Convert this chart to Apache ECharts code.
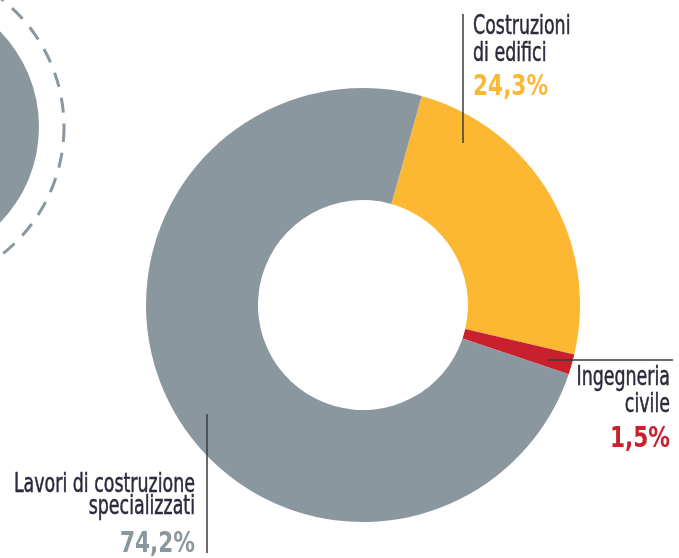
<!DOCTYPE html>
<html>
<head>
<meta charset="utf-8">
<script src="https://cdn.jsdelivr.net/npm/echarts@6/dist/echarts.min.js"></script>
<style>
  html, body { margin: 0; padding: 0; background: #fff; }
  #main { width: 679px; height: 558px; }
</style>
</head>
<body>
<div id="main"></div>
<script>
  // dati
  const categories = ['Costruzioni\ndi edifici', 'Ingegneria\ncivile', 'Lavori di costruzione\nspecializzati'];
  const values = [24.3, 1.5, 74.2];
  const colors = ['#fdb833', '#c8212d', '#8b979e'];

  const font = '"DejaVu Sans Condensed", "Liberation Sans Narrow", sans-serif';
  const textColor = '#2b2a3c';

  // etichette: ancora x, allineamento, linee di base dei nomi e della percentuale
  const labelPos = [
    { x: 473, align: 'left', base: [35, 62], pbase: 96 },
    { x: 670, align: 'right', base: [386, 413], pbase: 448 },
    { x: 195, align: 'right', base: [493, 515], pbase: 553 }
  ];
  const nameSize = 26, nameScale = 0.745;
  const pctSize = 29, pctScale = 0.83;

  function fmt(v) { return v.toFixed(1).replace('.', ',') + '%'; }

  const labelEls = [];
  categories.forEach((c, i) => {
    const p = labelPos[i];
    c.split('\n').forEach((line, k) => {
      labelEls.push({
        type: 'text', x: p.x, y: p.base[k] - nameSize * 0.3, scaleX: nameScale, z: 20, silent: true,
        style: {
          text: line, font: nameSize + 'px ' + font, fill: textColor,
          stroke: textColor, lineWidth: 0.5, align: p.align, verticalAlign: 'middle'
        }
      });
    });
    labelEls.push({
      type: 'text', x: p.x, y: p.pbase - pctSize * 0.3, scaleX: pctScale, z: 20, silent: true,
      style: { text: fmt(values[i]), font: 'bold ' + pctSize + 'px ' + font, fill: colors[i], align: p.align, verticalAlign: 'middle' }
    });
  });

  const pieData = categories.map((c, i) => ({
    name: c,
    value: values[i],
    itemStyle: { color: colors[i] }
  }));

  const myChart = echarts.init(document.getElementById('main'));
  const lineStyle = { stroke: '#3a3a3a', lineWidth: 1.5 };

  const option = {
    animation: false,
    backgroundColor: '#fff',
    graphic: [
      // cerchio decorativo a sinistra
      { type: 'circle', shape: { cx: -98, cy: 127, r: 137 }, style: { fill: '#8b979e' }, silent: true },
      { type: 'circle', shape: { cx: -98, cy: 127, r: 162 }, style: { fill: 'none', stroke: '#8b979e', lineWidth: 3, lineDash: [15, 11] }, silent: true },
      // linee di richiamo
      { type: 'line', shape: { x1: 463, y1: 14, x2: 463, y2: 143 }, style: lineStyle, z: 10 },
      { type: 'line', shape: { x1: 548, y1: 360, x2: 673, y2: 360 }, style: lineStyle, z: 10 },
      { type: 'line', shape: { x1: 207, y1: 414, x2: 207, y2: 553 }, style: lineStyle, z: 10 }
    ].concat(labelEls),
    series: [
      {
        type: 'pie',
        center: [363, 305],
        radius: [105, 217],
        startAngle: 74.3,
        clockwise: true,
        silent: true,
        emphasis: { disabled: true },
        label: { show: false },
        labelLine: { show: false },
        data: pieData
      }
    ]
  };

  myChart.setOption(option);
</script>
</body>
</html>
